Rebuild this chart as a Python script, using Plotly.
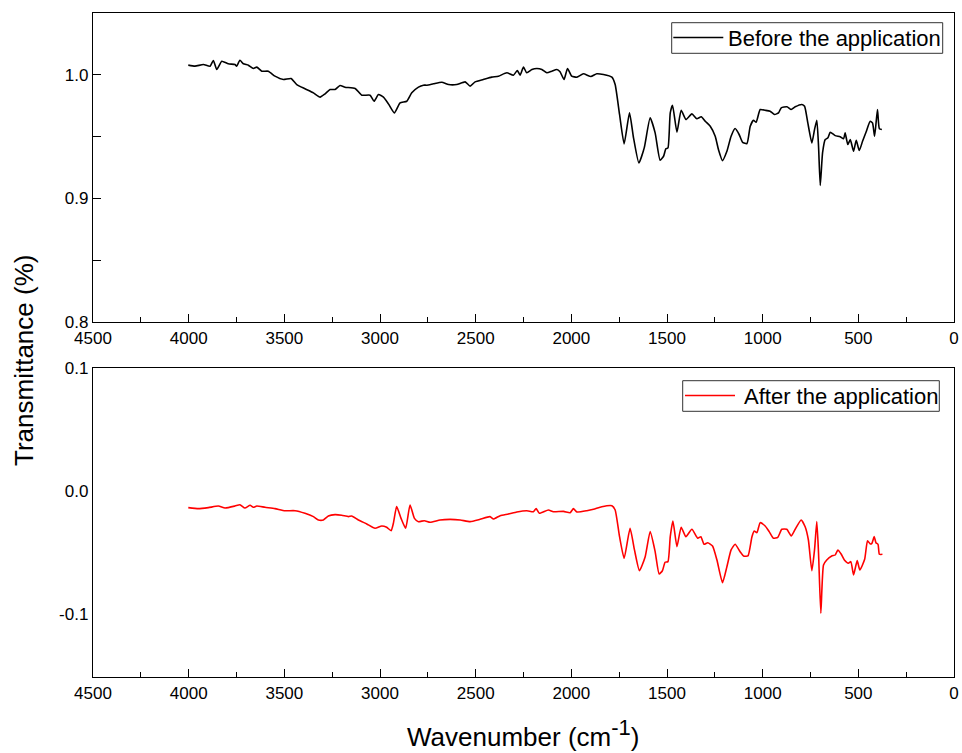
import plotly.graph_objects as go

# FTIR spectrum before the application (wavenumber in cm^-1, transmittance)
wn_before = [4002, 3967, 3923, 3888, 3871, 3853, 3827, 3793, 3758, 3749, 3732, 3714,
             3688, 3662, 3644, 3618, 3584, 3549, 3505, 3465, 3435, 3392, 3348, 3313,
             3287, 3261, 3235, 3209, 3183, 3130, 3095, 3052, 3031, 3008, 2982, 2956,
             2925, 2895, 2860, 2834, 2799, 2773, 2755, 2721, 2677, 2642, 2599, 2555,
             2529, 2503, 2460, 2416, 2381, 2337, 2303, 2282, 2268, 2250, 2233, 2206,
             2180, 2154, 2128, 2102, 2076, 2059, 2038, 2020, 1998, 1971, 1937, 1898,
             1867, 1832, 1788, 1771, 1748, 1724, 1696, 1675, 1647, 1619, 1588, 1562,
             1536, 1518, 1506, 1495, 1483, 1471, 1448, 1426, 1401, 1370, 1344, 1321,
             1300, 1274, 1248, 1231, 1210, 1187, 1165, 1144, 1123, 1105, 1082, 1065,
             1048, 1034, 1013, 987, 961, 938, 917, 903, 873, 851, 830, 795, 781, 764,
             743, 729, 717, 708, 699, 687, 673, 659, 647, 621, 595, 577, 569, 555,
             542, 525, 511, 495, 478, 460, 438, 426, 415, 400, 390, 377]
t_before = [1.0078, 1.0070, 1.0083, 1.0070, 1.0116, 1.0043, 1.0110, 1.0089, 1.0083, 1.0070,
            1.0118, 1.0089, 1.0078, 1.0051, 1.0062, 1.0029, 1.0029, 0.9989, 0.9962, 0.9970,
            0.9921, 0.9887, 0.9854, 0.9819, 0.9846, 0.9881, 0.9881, 0.9913, 0.9900, 0.9889,
            0.9835, 0.9835, 0.9786, 0.9840, 0.9819, 0.9765, 0.9692, 0.9773, 0.9786, 0.9854,
            0.9900, 0.9916, 0.9916, 0.9927, 0.9940, 0.9921, 0.9921, 0.9943, 0.9908, 0.9943,
            0.9962, 0.9981, 0.9989, 1.0016, 0.9997, 1.0035, 0.9997, 1.0062, 1.0016, 1.0043,
            1.0051, 1.0043, 1.0016, 1.0029, 1.0043, 1.0024, 0.9962, 1.0051, 0.9989, 0.9981,
            1.0008, 0.9986, 1.0008, 1.0002, 0.9981, 0.9921, 0.9679, 0.9441, 0.9692, 0.9490,
            0.9287, 0.9409, 0.9652, 0.9530, 0.9309, 0.9341, 0.9401, 0.9409, 0.9692, 0.9754,
            0.9535, 0.9713, 0.9638, 0.9684, 0.9644, 0.9660, 0.9624, 0.9584, 0.9503, 0.9395,
            0.9306, 0.9381, 0.9503, 0.9565, 0.9517, 0.9454, 0.9444, 0.9584, 0.9632, 0.9616,
            0.9719, 0.9713, 0.9705, 0.9679, 0.9692, 0.9733, 0.9741, 0.9719, 0.9741, 0.9760,
            0.9746, 0.9611, 0.9449, 0.9557, 0.9632, 0.9422, 0.9104, 0.9368, 0.9476, 0.9490,
            0.9535, 0.9508, 0.9498, 0.9482, 0.9530, 0.9436, 0.9476, 0.9381, 0.9470, 0.9387,
            0.9462, 0.9535, 0.9624, 0.9611, 0.9503, 0.9719, 0.9563, 0.9557]

# FTIR spectrum after the application
wn_after = [4002, 3949, 3897, 3845, 3810, 3758, 3732, 3706, 3679, 3662, 3644, 3601,
            3549, 3496, 3444, 3392, 3348, 3322, 3296, 3270, 3235, 3200, 3165, 3148,
            3113, 3069, 3026, 2991, 2965, 2942, 2930, 2913, 2890, 2866, 2843, 2820,
            2799, 2768, 2738, 2686, 2634, 2581, 2529, 2477, 2425, 2407, 2372, 2329,
            2285, 2233, 2198, 2184, 2167, 2120, 2094, 2041, 2006, 1989, 1971, 1919,
            1884, 1841, 1788, 1771, 1748, 1724, 1693, 1670, 1644, 1614, 1588, 1562,
            1541, 1524, 1510, 1495, 1483, 1469, 1448, 1426, 1401, 1370, 1339, 1323,
            1306, 1287, 1262, 1239, 1210, 1187, 1165, 1144, 1118, 1100, 1077, 1056,
            1044, 1030, 1013, 987, 966, 944, 921, 900, 874, 851, 830, 799, 778, 761,
            743, 729, 717, 708, 696, 682, 665, 639, 621, 607, 590, 573, 552, 539,
            525, 506, 492, 467, 452, 438, 429, 417, 408, 397, 390, 374]
t_after = [-0.0133, -0.0141, -0.0133, -0.0120, -0.0136, -0.0120, -0.0109, -0.0136, -0.0114,
           -0.0130, -0.0120, -0.0130, -0.0141, -0.0158, -0.0158, -0.0179, -0.0206, -0.0233,
           -0.0233, -0.0201, -0.0190, -0.0195, -0.0206, -0.0201, -0.0233, -0.0266, -0.0301,
           -0.0282, -0.0293, -0.0320, -0.0260, -0.0125, -0.0220, -0.0301, -0.0111, -0.0220,
           -0.0247, -0.0239, -0.0252, -0.0233, -0.0228, -0.0233, -0.0247, -0.0228, -0.0206,
           -0.0225, -0.0198, -0.0185, -0.0168, -0.0158, -0.0166, -0.0141, -0.0179, -0.0152,
           -0.0166, -0.0163, -0.0174, -0.0141, -0.0168, -0.0158, -0.0146, -0.0125, -0.0117,
           -0.0152, -0.0369, -0.0545, -0.0301, -0.0477, -0.0646, -0.0532, -0.0328, -0.0490,
           -0.0672, -0.0646, -0.0577, -0.0572, -0.0369, -0.0241, -0.0450, -0.0293, -0.0369,
           -0.0309, -0.0382, -0.0369, -0.0431, -0.0418, -0.0445, -0.0559, -0.0743, -0.0613,
           -0.0477, -0.0431, -0.0491, -0.0526, -0.0526, -0.0369, -0.0323, -0.0336, -0.0255,
           -0.0282, -0.0328, -0.0382, -0.0374, -0.0309, -0.0309, -0.0363, -0.0309, -0.0233,
           -0.0288, -0.0396, -0.0646, -0.0477, -0.0247, -0.0504, -0.0992, -0.0599, -0.0559,
           -0.0526, -0.0518, -0.0477, -0.0510, -0.0559, -0.0585, -0.0572, -0.0680, -0.0564,
           -0.0640, -0.0553, -0.0402, -0.0428, -0.0423, -0.0369, -0.0418, -0.0431, -0.0512,
           -0.0512]

series_names = ["Before the application", "After the application"]
series_colors = ["#000000", "#ff0000"]

x_ticks = [4500, 4000, 3500, 3000, 2500, 2000, 1500, 1000, 500, 0]
top_y_ticks = [0.8, 0.9, 1.0]
top_y_labels = ["0.8", "0.9", "1.0"]
bottom_y_ticks = [-0.1, 0.0, 0.1]
bottom_y_labels = ["-0.1", "0.0", "0.1"]

FONT = "Liberation Sans, Arial, sans-serif"
W, H = 962, 753
ML, MR, MT, MB = 93, 8, 13, 76
PW, PH = W - ML - MR, H - MT - MB


def px(xp):
    """Horizontal page pixel -> paper fraction."""
    return (xp - ML) / PW


def py(yp):
    """Vertical page pixel (from top) -> paper fraction."""
    return (H - MB - yp) / PH


fig = go.Figure()
fig.add_trace(go.Scatter(x=wn_before, y=t_before, mode="lines", name=series_names[0],
                         line=dict(color=series_colors[0], width=1.6, shape="spline",
                                   smoothing=0.5),
                         xaxis="x", yaxis="y", showlegend=False))
fig.add_trace(go.Scatter(x=wn_after, y=t_after, mode="lines", name=series_names[1],
                         line=dict(color=series_colors[1], width=1.6, shape="spline",
                                   smoothing=0.5),
                         xaxis="x2", yaxis="y2", showlegend=False))

axis_common = dict(showline=True, linecolor="#000000", linewidth=1.4, mirror=True,
                   showgrid=False, zeroline=False, automargin=False,
                   tickfont=dict(family=FONT, size=17, color="#000000"))

x_common = dict(axis_common, range=[4500, 0], tickmode="array", tickvals=x_ticks,
                ticktext=[str(v) for v in x_ticks], ticks="inside", ticklen=8,
                tickwidth=1.3, tickcolor="#000000",
                minor=dict(dtick=250, ticks="inside", ticklen=5, tickwidth=1.3,
                           tickcolor="#000000", tick0=0))

# Legend boxes: frame, sample line and label for each panel
legend_boxes = [
    # (box x0, x1, y0, y1, line x0, x1, line y, text x, text y)
    (671.7, 942.7, 22.7, 53.3, 673.3, 723.3, 37.5, 725.5, 38.0),
    (682.7, 939.3, 380.7, 411.3, 685.0, 735.0, 395.5, 741.5, 396.0),
]
shapes = []
annotations = []
for name, color, (bx0, bx1, by0, by1, lx0, lx1, ly, tx, ty) in zip(
        series_names, series_colors, legend_boxes):
    shapes.append(dict(type="rect", xref="paper", yref="paper",
                       x0=px(bx0), x1=px(bx1), y0=py(by1), y1=py(by0),
                       line=dict(color="#333333", width=1), fillcolor="white", layer="above"))
    shapes.append(dict(type="line", xref="paper", yref="paper",
                       x0=px(lx0), x1=px(lx1), y0=py(ly), y1=py(ly),
                       line=dict(color=color, width=1.6), layer="above"))
    annotations.append(dict(text=name, x=px(tx), y=py(ty), xref="paper", yref="paper",
                            xanchor="left", yanchor="middle", showarrow=False,
                            font=dict(family=FONT, size=22, color="#000000")))

annotations += [
    dict(text="Transmittance (%)", x=px(24), y=py(361), xref="paper", yref="paper",
         xanchor="center", yanchor="middle", textangle=-90, showarrow=False,
         font=dict(family=FONT, size=26, color="#000000")),
    dict(text="Wavenumber (cm<sup><span style='font-size:22px'>-1</span></sup>)",
         x=px(523), y=py(733), xref="paper", yref="paper",
         xanchor="center", yanchor="middle", showarrow=False,
         font=dict(family=FONT, size=26, color="#000000")),
]

fig.update_layout(
    template="none",
    width=W, height=H,
    paper_bgcolor="white", plot_bgcolor="white",
    margin=dict(l=ML, r=MR, t=MT, b=MB, autoexpand=False),
    font=dict(family=FONT, color="#000000"),
    showlegend=False,
    xaxis=dict(x_common, domain=[0, 1], anchor="y"),
    yaxis=dict(axis_common, domain=[py(322), 1.0], anchor="x", range=[0.8, 1.05],
               tickmode="array", tickvals=top_y_ticks, ticktext=top_y_labels,
               ticks="inside", ticklen=8, tickwidth=1.3, tickcolor="#000000",
               minor=dict(dtick=0.05, tick0=0.8, ticks="inside", ticklen=8,
                          tickwidth=1.3, tickcolor="#000000")),
    xaxis2=dict(x_common, domain=[0, 1], anchor="y2"),
    yaxis2=dict(axis_common, domain=[0, py(368.3)], anchor="x2", range=[-0.151, 0.1],
                tickmode="array", tickvals=bottom_y_ticks, ticktext=bottom_y_labels,
                ticks=""),
    shapes=shapes,
    annotations=annotations,
)

fig.write_html("out.html")
